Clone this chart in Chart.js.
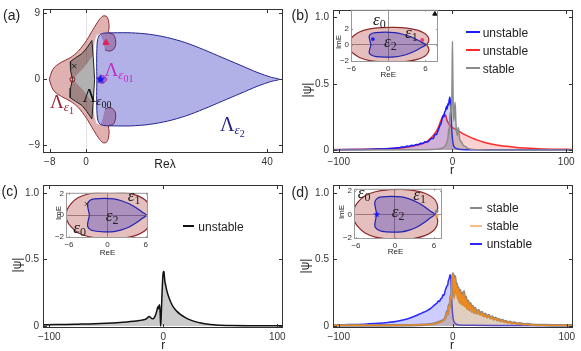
<!DOCTYPE html>
<html>
<head>
<meta charset="utf-8">
<script src="https://cdn.jsdelivr.net/npm/chart.js@4.4.1/dist/chart.umd.min.js"></script>
<style>
body{margin:0;background:#fff}
#fig{position:relative;width:581px;height:351px;overflow:hidden;background:#fff;font-family:"Liberation Sans",Arial,sans-serif;color:#222}
#fig canvas{position:absolute}
.t{position:absolute;white-space:nowrap;line-height:1}
.srf{font-family:"Liberation Serif","Times New Roman",serif}
.sub1{font-style:italic;font-size:13px;position:relative;top:3px}
.sub2{font-size:10px;position:relative;top:6px}
.eps{font-family:"Liberation Serif",serif;font-size:17px}
.eps span{font-size:12px;position:relative;top:3px}
.lg{position:absolute;height:2px}
</style>
</head>
<body>
<div id="fig">
  <canvas id="pa"></canvas>
  <canvas id="pb"></canvas>
  <canvas id="pc"></canvas>
  <canvas id="pd"></canvas>
  <canvas id="ib"></canvas>
  <canvas id="ic"></canvas>
  <canvas id="id"></canvas>
</div>
<script>
// ---- panel (a): regions in the complex lambda plane, outlines ----
const aTicksX = [-8, 0, 40];
const aTicksY = [-9, 0, 9];
const lamEps1 = [[-8.1,0],[-7.6,1.0],[-6.9,1.7],[-5.4,2.35],[-3.5,2.95],[-1.7,3.85],[0.1,5.3],[1.6,6.85],[3.0,8.2],[3.8,8.65],[4.5,8.6],[4.95,8.05],[5.1,7.1],[5.0,6.35],[6.0,6.15],[6.5,5.45],[6.5,4.6],[5.9,4.0],[5.0,3.85],[4.2,4.0],[3.6,3.0],[3.6,-3.0],[4.2,-4.0],[5.0,-3.85],[5.9,-4.0],[6.5,-4.6],[6.5,-5.45],[6.0,-6.15],[5.0,-6.35],[5.1,-7.1],[4.95,-8.05],[4.5,-8.6],[3.8,-8.65],[3.0,-8.2],[1.6,-6.85],[0.1,-5.3],[-1.7,-3.85],[-3.5,-2.95],[-5.4,-2.35],[-6.9,-1.7],[-7.6,-1.0],[-8.1,0]];
const lamEps1Gap = [[-3.0,0],[-0.6,1.5],[1.6,3.3],[1.9,5.2],[2.4,6.1],[3.2,6.15],[3.7,5.4],[4.2,4.0],[4.0,3.0],[4.0,-3.0],[4.2,-4.0],[3.7,-5.4],[3.2,-6.15],[2.4,-6.1],[1.9,-5.2],[1.6,-3.3],[-0.6,-1.5],[-3.0,0]];
const lamEps00 = [[1.3,5.3],[0.2,4.3],[-0.9,3.5],[-2.3,2.95],[-3.5,2.4],[-3.4,1.2],[-3.0,0],[-3.4,-1.2],[-3.5,-2.5],[-2.3,-3.0],[-0.9,-3.55],[0.2,-4.4],[1.3,-5.4],[1.6,-3.0],[1.9,0],[1.6,3.0],[1.3,5.3]];
const lamEps2 = [[2.4,0],[2.35,2.2],[2.4,4.2],[2.55,5.4],[3.0,6.05],[3.9,6.3],[6,6.35],[10,6.35],[14,6.15],[18,5.7],[22,5.0],[26,4.05],[30,3.0],[34,1.95],[38,0.9],[40.8,0.3],[42.7,0],[40.8,-0.3],[38,-0.9],[34,-1.95],[30,-3.0],[26,-4.05],[22,-5.0],[18,-5.7],[14,-6.15],[10,-6.35],[6,-6.35],[3.9,-6.3],[3.0,-6.05],[2.55,-5.4],[2.4,-4.2],[2.35,-2.2],[2.4,0]];
const lamEps01 = [[2.6,0],[3.0,0.45],[3.8,0.5],[4.4,0.2],[4.6,0],[4.4,-0.2],[3.8,-0.5],[3.0,-0.45],[2.6,0]];
const aCross = [-2.6, 1.8], aCircle = [-3.0, 0], aStar = [3.2, 0], aTriangle = [4.4, 5.0];

// ---- insets: spectra in the complex E plane ----
const insetTicksX = [-6, 0, 6];
const insetTicksY = [-2, 0, 2];
const eps1Loop = [[6.2,0],[6.55,0.45],[6.45,0.95],[5.9,1.4],[4.7,1.8],[3.0,2.05],[1.0,2.15],[-1.0,2.12],[-3.0,1.95],[-4.6,1.6],[-5.7,1.05],[-6.3,0.5],[-6.45,0],[-6.3,-0.5],[-5.7,-1.05],[-4.6,-1.6],[-3.0,-1.95],[-1.0,-2.12],[1.0,-2.15],[3.0,-2.05],[4.7,-1.8],[5.9,-1.4],[6.45,-0.95],[6.55,-0.45],[6.2,0]];
const eps2Loop = [[-2.8,0],[-3.0,0.55],[-3.1,1.05],[-2.7,1.38],[-2.0,1.5],[-0.5,1.55],[1.0,1.5],[2.2,1.33],[3.4,1.05],[4.5,0.68],[5.4,0.3],[6.1,0],[5.4,-0.3],[4.5,-0.7],[3.4,-1.08],[2.2,-1.35],[1.0,-1.5],[-0.5,-1.52],[-2.0,-1.45],[-2.7,-1.3],[-3.1,-1.0],[-3.0,-0.5],[-2.8,0]];

// ---- profiles |psi|(r) ----
const rTicks = [-100, 0, 100];
const psiTicks = [0, 0.5, 1];
const bUnstableBlue = [[-105,0.003],[-90,0.004],[-80,0.005],[-70,0.007],[-62,0.009],[-56,0.012],[-52,0.014],[-49,0.017],[-46,0.02],[-44,0.025],[-42,0.023],[-40,0.03],[-38,0.028],[-36,0.036],[-34,0.034],[-32,0.043],[-30,0.041],[-28,0.052],[-26,0.05],[-24,0.063],[-22,0.06],[-20,0.076],[-18,0.09],[-17,0.086],[-16,0.105],[-15,0.12],[-14,0.118],[-13,0.14],[-12,0.16],[-11,0.185],[-10,0.2],[-9,0.24],[-8.2,0.26],[-7.5,0.25],[-7,0.28],[-6,0.3],[-5.2,0.33],[-4.6,0.31],[-4,0.35],[-3.4,0.34],[-2.8,0.38],[-2.2,0.4],[-1.6,0.33],[-1.0,0.24],[-0.4,0.13],[0.2,0.07],[1,0.035],[2,0.02],[4,0.01],[8,0.005],[20,0.003],[106,0.002]];
const bUnstableRed = [[-105,0.004],[-90,0.005],[-75,0.007],[-60,0.01],[-50,0.013],[-45,0.016],[-40,0.022],[-35,0.029],[-30,0.04],[-26,0.05],[-22,0.068],[-19,0.09],[-16,0.12],[-14,0.145],[-12,0.18],[-10.5,0.215],[-9,0.245],[-8,0.26],[-7.2,0.27],[-6.6,0.255],[-6,0.265],[-5,0.23],[-4,0.21],[-3,0.195],[-2,0.185],[-1,0.175],[0,0.17],[2,0.16],[4.5,0.148],[7,0.135],[10,0.12],[14,0.103],[18,0.088],[22,0.075],[27,0.061],[33,0.048],[40,0.037],[48,0.028],[56,0.02],[65,0.015],[75,0.01],[88,0.007],[106,0.005]];
const bStableGray = [[-105,0.001],[-30,0.002],[-15,0.006],[-10,0.012],[-7,0.025],[-5.5,0.045],[-4.5,0.07],[-3.8,0.1],[-3.2,0.16],[-2.8,0.13],[-2.3,0.28],[-1.8,0.24],[-1.2,0.35],[-0.7,0.3],[-0.3,0.55],[0,0.82],[0.3,0.6],[0.7,0.32],[1.2,0.22],[1.8,0.3],[2.4,0.36],[3,0.22],[3.6,0.14],[4.2,0.11],[5,0.17],[5.6,0.15],[6.2,0.09],[7,0.07],[8,0.06],[9.5,0.035],[11,0.03],[13,0.015],[16,0.007],[22,0.003],[40,0.001],[106,0.001]];
const cUnstable = [[-106,0.01],[-95,0.011],[-85,0.012],[-75,0.014],[-65,0.016],[-55,0.019],[-45,0.023],[-38,0.027],[-32,0.03],[-26,0.035],[-21,0.041],[-17,0.047],[-15,0.053],[-13.5,0.065],[-12.5,0.072],[-11.5,0.068],[-10.5,0.058],[-9.5,0.054],[-8.5,0.057],[-7.5,0.068],[-6.5,0.09],[-5.5,0.12],[-4.8,0.145],[-4.3,0.13],[-3.8,0.15],[-3.2,0.16],[-2.7,0.09],[-2.3,0.0],[-1.8,0.08],[-1.2,0.22],[-0.6,0.34],[0,0.405],[0.6,0.41],[1,0.37],[1.5,0.33],[2,0.31],[3,0.27],[4.5,0.225],[6.5,0.18],[9,0.14],[12,0.11],[15,0.087],[19,0.065],[23,0.048],[28,0.033],[33,0.022],[38,0.015],[44,0.009],[50,0.006],[60,0.003],[75,0.002],[105,0.002]];
const dUnstableBlue = [[-105,0.008],[-95,0.01],[-85,0.012],[-75,0.016],[-65,0.021],[-57,0.027],[-50,0.034],[-44,0.045],[-38,0.058],[-33,0.075],[-29,0.09],[-25,0.105],[-22,0.118],[-19,0.135],[-17,0.15],[-15,0.165],[-13.5,0.175],[-12.5,0.19],[-11.5,0.185],[-10.5,0.205],[-9.5,0.21],[-8.5,0.235],[-7.6,0.23],[-6.8,0.26],[-6,0.28],[-5.2,0.3],[-4.5,0.305],[-3.8,0.34],[-3,0.36],[-2.3,0.385],[-1.7,0.37],[-1.2,0.28],[-0.7,0.17],[-0.2,0.1],[0.5,0.05],[1.5,0.028],[3,0.015],[6,0.008],[15,0.005],[40,0.004],[106,0.004]];
const dStableGray = [[-105,0.005],[-60,0.005],[-30,0.008],[-18,0.015],[-12,0.03],[-9,0.04],[-7,0.055],[-5.8,0.08],[-5,0.11],[-4.2,0.09],[-3.4,0.16],[-2.6,0.14],[-1.8,0.23],[-1.1,0.21],[-0.5,0.34],[0.1,0.395],[0.7,0.36],[1.3,0.22],[1.9,0.375],[2.5,0.33],[3.1,0.25],[3.7,0.32],[4.4,0.21],[5.1,0.29],[5.9,0.18],[6.7,0.27],[7.5,0.17],[8.3,0.25],[9.1,0.16],[9.9,0.26],[10.8,0.15],[11.7,0.22],[12.6,0.13],[13.6,0.19],[14.6,0.12],[15.6,0.17],[16.6,0.11],[17.6,0.15],[18.6,0.1],[19.6,0.135],[21.1,0.095],[22.6,0.12],[24.1,0.085],[25.6,0.105],[27.1,0.075],[28.6,0.092],[30.1,0.066],[31.6,0.082],[33.1,0.058],[34.6,0.072],[36.1,0.05],[37.6,0.062],[39.1,0.044],[40.6,0.053],[42.1,0.037],[43.6,0.045],[45.1,0.032],[46.6,0.038],[48.1,0.027],[50.1,0.032],[52.1,0.022],[54.1,0.026],[56.1,0.018],[59,0.02],[62,0.013],[66,0.014],[70,0.01],[80,0.007],[92,0.005],[106,0.005]];
const dStableOrange = [[-105,0.004],[-70,0.004],[-40,0.006],[-25,0.01],[-18,0.014],[-14,0.02],[-11,0.03],[-9,0.035],[-7.5,0.05],[-6.2,0.07],[-5.2,0.1],[-4.4,0.085],[-3.6,0.15],[-2.8,0.13],[-2,0.22],[-1.3,0.2],[-0.6,0.33],[0,0.39],[0.6,0.36],[1.2,0.2],[1.8,0.37],[2.4,0.32],[3,0.24],[3.6,0.31],[4.3,0.2],[5,0.28],[5.8,0.17],[6.6,0.26],[7.4,0.16],[8.2,0.24],[9,0.15],[9.8,0.25],[10.7,0.14],[11.6,0.21],[12.5,0.125],[13.5,0.18],[14.5,0.115],[15.5,0.165],[16.5,0.105],[17.5,0.145],[18.5,0.095],[19.5,0.13],[21,0.09],[22.5,0.115],[24,0.08],[25.5,0.1],[27,0.07],[28.5,0.088],[30,0.062],[31.5,0.078],[33,0.055],[34.5,0.068],[36,0.048],[37.5,0.058],[39,0.042],[40.5,0.05],[42,0.035],[43.5,0.042],[45,0.03],[46.5,0.036],[48,0.025],[50,0.03],[52,0.02],[54,0.024],[56,0.016],[59,0.018],[62,0.012],[66,0.013],[70,0.009],[78,0.007],[90,0.005],[106,0.004]];

const SANS = '"Liberation Sans", Arial, sans-serif';
const pts = a => a.map(([x, y]) => ({x, y}));
const minus = v => (v < 0 ? '\u2212' + Math.abs(v) : String(v));
const psiFmt = v => (v === 0 ? '0' : v.toFixed(1));

// frame with inward ticks on all four sides, like the original
const framePlugin = {
  id: 'frame',
  afterDatasetsDraw(chart, args, o) {
    const {ctx, chartArea: a, scales: {x, y}} = chart;
    const L = o.len;
    ctx.save();
    ctx.strokeStyle = o.color;
    ctx.lineWidth = 1;
    ctx.beginPath();
    for (const t of x.ticks) {
      const p = Math.round(x.getPixelForValue(t.value)) + 0.5;
      ctx.moveTo(p, a.bottom); ctx.lineTo(p, a.bottom - L);
      ctx.moveTo(p, a.top); ctx.lineTo(p, a.top + L);
    }
    for (const t of y.ticks) {
      const p = Math.round(y.getPixelForValue(t.value)) + 0.5;
      ctx.moveTo(a.left, p); ctx.lineTo(a.left + L, p);
      ctx.moveTo(a.right, p); ctx.lineTo(a.right - L, p);
    }
    ctx.stroke();
    ctx.strokeRect(a.left + 0.5, a.top + 0.5, a.right - a.left - 1, a.bottom - a.top - 1);
    ctx.restore();
  }
};

// box = canvas [left, top, w, h] on the page, area = plot frame [l, t, r, b] on the page
function makeChart(id, box, area, xr, yr, xTicks, yTicks, layers, o) {
  const cv = document.getElementById(id);
  cv.width = box[2]; cv.height = box[3];
  cv.style.left = box[0] + 'px'; cv.style.top = box[1] + 'px';
  cv.style.width = box[2] + 'px'; cv.style.height = box[3] + 'px';
  const yW = area[0] - box[0];
  const xH = box[1] + box[3] - area[3];
  const font = {family: SANS, size: o.fs};
  const gridCol = z => c => (z && c.tick && c.tick.value === 0 ? z : 'rgba(0,0,0,0)');
  // first layer is the bottom one
  const datasets = layers.map((d, i) => Object.assign({order: layers.length - i}, d));
  return new Chart(cv, {
    type: 'line',
    data: {datasets},
    options: {
      responsive: false,
      animation: false,
      devicePixelRatio: 1,
      layout: {autoPadding: false, padding: {top: area[1] - box[1], right: box[0] + box[2] - area[2], left: 0, bottom: 0}},
      elements: {point: {radius: 0}, line: {capBezierPoints: false}},
      plugins: {legend: {display: false}, tooltip: {enabled: false}, frame: {color: o.frame, len: o.len}},
      scales: {
        x: {
          type: 'linear', min: xr[0], max: xr[1],
          afterBuildTicks: s => { s.ticks = xTicks.map(v => ({value: v})); },
          afterFit: s => { s.height = xH; },
          grid: {drawTicks: false, color: gridCol(o.zeroX), lineWidth: 1},
          border: {display: false},
          ticks: {font, color: '#333', padding: o.padX, maxRotation: 0, autoSkip: false, callback: minus}
        },
        y: {
          type: 'linear', min: yr[0], max: yr[1],
          afterBuildTicks: s => { s.ticks = yTicks.map(v => ({value: v})); },
          afterFit: s => { s.width = yW; },
          grid: {drawTicks: false, color: gridCol(o.zeroY), lineWidth: 1},
          border: {display: false},
          ticks: {font, color: '#333', padding: o.padY, autoSkip: false, callback: o.fmtY || minus}
        }
      }
    },
    plugins: [framePlugin]
  });
}

const shape = (data, fillC, lineC, tension, bw) => ({
  data: pts(data), fill: 'shape', backgroundColor: fillC, borderColor: lineC,
  borderWidth: bw === undefined ? 1 : bw, pointRadius: 0, tension
});
const curve = (data, lineC, fillC, bw) => ({
  data: pts(data), fill: fillC ? 'origin' : false, backgroundColor: fillC || 'rgba(0,0,0,0)',
  borderColor: lineC, borderWidth: bw || 1.5, pointRadius: 0, cubicInterpolationMode: 'monotone'
});
const mark = (xy, style, r, fillC, lineC, bw) => ({
  data: pts([xy]), showLine: false, pointStyle: style, pointRadius: r,
  pointBackgroundColor: fillC, pointBorderColor: lineC, pointBorderWidth: bw || 1
});
function starShape(size, color) {
  const c = document.createElement('canvas');
  c.width = c.height = size;
  const g = c.getContext('2d');
  g.fillStyle = color;
  g.beginPath();
  for (let i = 0; i < 10; i++) {
    const rr = i % 2 ? size * 0.22 : size * 0.5;
    const ang = -Math.PI / 2 + i * Math.PI / 5;
    g.lineTo(size / 2 + rr * Math.cos(ang), size / 2 + rr * Math.sin(ang));
  }
  g.closePath();
  g.fill();
  return c;
}

const PINK = 'rgba(170,40,40,0.36)', DARKRED = '#8e2a2a';
const BLUEFILL = 'rgba(40,40,190,0.36)', NAVY = '#24248f';

// (a)
makeChart('pa', [0, 0, 290, 175], [43, 5, 283, 153], [-9.5, 43.5], [-10.05, 9.6], aTicksX, aTicksY, [
  shape(lamEps1, PINK, DARKRED, 0.3),
  shape(lamEps1Gap, '#ffffff', 'rgba(0,0,0,0)', 0, 0),
  shape(lamEps00, 'rgba(70,70,70,0.42)', '#222', 0),
  shape(lamEps2, BLUEFILL, NAVY, 0.3),
  shape(lamEps01, 'rgba(150,50,200,0.5)', '#a52aa5', 0.4),
  mark(aCross, 'crossRot', 3, '#222', '#222', 1),
  mark(aCircle, 'circle', 2.5, 'rgba(0,0,0,0)', '#8b1a1a', 1),
  mark(aStar, starShape(10, '#1515ee'), 5, '#1515ee', '#1515ee', 1),
  mark(aTriangle, 'triangle', 3.5, '#e0245a', '#e0245a', 1)
], {fs: 10, padX: 3, padY: 3, frame: '#333', len: 4, zeroX: '#e2e2e2'});

// (b)
makeChart('pb', [290, 0, 291, 175], [333, 5, 573, 153], [-105, 106], [-0.022, 1.056], rTicks, psiTicks, [
  curve(bUnstableRed, '#ff2a2a', 'rgba(235,80,80,0.26)'),
  curve(bUnstableBlue, '#1a1aff', 'rgba(60,60,230,0.22)'),
  curve(bStableGray, '#8c8c8c', 'rgba(120,120,120,0.3)')
], {fs: 10, padX: 3, padY: 4, frame: '#333', len: 4, fmtY: psiFmt});

// (c)
makeChart('pc', [0, 175, 290, 176], [43, 180, 283, 328], [-105.5, 105], [-0.015, 1.06], rTicks, psiTicks, [
  curve(cUnstable, '#111', 'rgba(140,140,140,0.45)')
], {fs: 10, padX: 3, padY: 4, frame: '#333', len: 4, fmtY: psiFmt});

// (d)
makeChart('pd', [290, 175, 291, 176], [333, 180, 573, 328], [-105, 105.5], [-0.015, 1.06], rTicks, psiTicks, [
  curve(dUnstableBlue, '#2a2aff', 'rgba(90,90,255,0.3)'),
  curve(dStableGray, '#858585', 'rgba(110,110,110,0.15)', 2.6),
  curve(dStableOrange, '#f08a1e', 'rgba(200,140,80,0.28)', 1.3)
], {fs: 10, padX: 3, padY: 4, frame: '#333', len: 4, fmtY: psiFmt});

// insets
const insetOpts = {fs: 8, padX: 2, padY: 2, frame: '#999', len: 2, zeroX: '#9a9a9a', zeroY: '#9a9a9a'};
const insetBase = () => [
  shape(eps1Loop, 'rgba(170,40,40,0.3)', DARKRED, 0.4, 1.2),
  shape(eps2Loop, 'rgba(40,40,190,0.3)', '#2323b0', 0.35, 1.2)
];
makeChart('ib', [330, 3, 112, 75], [351, 8, 438, 62], [-6.05, 8.05], [-2.12, 4.31], insetTicksX, insetTicksY,
  insetBase().concat([
    mark([-2.5, 0.7], 'rect', 1.6, '#1a1aff', '#1a1aff', 1),
    mark([5.5, 0.6], 'circle', 1.5, '#e0406a', '#e0406a', 1),
    mark([7.55, 3.8], 'triangle', 2.5, '#111', '#111', 1)
  ]), insetOpts);
makeChart('ic', [46, 186, 106, 72], [66, 189, 148, 238], [-6.47, 6.34], [-2.09, 2.06], insetTicksX, insetTicksY,
  insetBase().concat([
    mark([-3.23, 1.04], 'crossRot', 2.5, '#333', '#333', 1)
  ]), insetOpts);
makeChart('id', [334, 182, 112, 74], [354, 185, 442, 239], [-6.3, 7.23], [-2.11, 2.2], insetTicksX, insetTicksY,
  insetBase().concat([
    mark([-2.8, 0], starShape(7, '#1a1aff'), 3.5, '#1a1aff', '#1a1aff', 1),
    mark([6.4, 0.26], 'circle', 1.5, '#888', '#888', 1),
    mark([6.4, -0.14], 'circle', 1.5, '#f5a050', '#f5a050', 1)
  ]), insetOpts);

// ---- text ----
const fig = document.getElementById('fig');
function txt(html, x, y, css) {
  const d = document.createElement('div');
  d.className = 't';
  d.innerHTML = html;
  d.style.cssText += 'left:' + x + 'px;top:' + y + 'px;' + (css || '');
  fig.appendChild(d);
  return d;
}
function legendLine(x, y, w, color) {
  const d = document.createElement('div');
  d.className = 'lg';
  d.style.cssText += 'left:' + x + 'px;top:' + y + 'px;width:' + w + 'px;background:' + color;
  fig.appendChild(d);
}
const vlabel = (s, cx, cy, fs) => txt(s, cx, cy, 'font-size:' + fs + 'px;transform:translate(-50%,-50%) rotate(-90deg);');
const clabel = (s, cx, top, fs) => txt(s, cx - 30, top, 'width:60px;text-align:center;font-size:' + fs + 'px;');

txt('(a)', 3, 8, 'font-size:14px;');
txt('(b)', 291.5, 8, 'font-size:14px;');
txt('(c)', 1.5, 183.5, 'font-size:14px;');
txt('(d)', 291.5, 185, 'font-size:14px;');

// region labels of (a)
const lam = (sub, digits) => '\u039b<span class="sub1">' + sub + '</span><span class="sub2">' + digits + '</span>';
txt(lam('\u03b5', '1'), 50, 91.5, 'font-family:"Liberation Serif",serif;font-size:19px;color:#9b2335;');
txt(lam('\u03b5', '00'), 82.5, 85.5, 'font-family:"Liberation Serif",serif;font-size:19px;color:#111;');
txt(lam('\u03b5', '01'), 104.5, 60, 'font-family:"Liberation Serif",serif;font-size:19px;color:#c42ac4;');
txt(lam('\u03b5', '2'), 220, 113.5, 'font-family:"Liberation Serif",serif;font-size:20px;color:#22228c;');
clabel('Re\u03bb', 165, 158, 12);

// axis labels of the profiles
vlabel('|\u03c8|', 306.7, 90, 12);
vlabel('|\u03c8|', 16.7, 265.3, 12);
vlabel('|\u03c8|', 305, 265.5, 12);
clabel('r', 452, 164.3, 12);
clabel('r', 163.3, 339.3, 12);
clabel('r', 452, 339.3, 12);

// inset labels
const eps = d => '<i>\u03b5</i><span>' + d + '</span>';
txt(eps('0'), 373, 11.3, '', ).className += ' eps';
txt(eps('1'), 405, 24.1).className += ' eps';
txt(eps('2'), 384, 33.3).className += ' eps';
txt(eps('1'), 127.7, 187.3).className += ' eps';
txt(eps('2'), 105.7, 206.8).className += ' eps';
txt(eps('0'), 73.3, 218.8).className += ' eps';
txt(eps('0'), 357.7, 183.8).className += ' eps';
txt(eps('1'), 413.3, 185.8).className += ' eps';
txt(eps('2'), 391.7, 202.8).className += ' eps';
vlabel('ImE', 338.5, 41.7, 8);
vlabel('ImE', 59, 212.5, 8);
vlabel('ImE', 341.7, 211.7, 8);
clabel('ReE', 388.3, 70.5, 8);
clabel('ReE', 107.5, 248.5, 8);
clabel('ReE', 395.5, 248, 8);

// legends
legendLine(466, 31.3, 14, '#1a1aff'); txt('unstable', 482.7, 27.1, 'font-size:12px;');
legendLine(466, 49, 14, '#ff2a2a'); txt('unstable', 482.7, 44.8, 'font-size:12px;');
legendLine(466, 67.3, 14, '#8c8c8c'); txt('stable', 482.7, 62.5, 'font-size:12px;');
legendLine(183, 225, 11, '#111'); txt('unstable', 198.3, 220.8, 'font-size:12px;');
legendLine(470, 206.7, 12, '#8a8a8a'); txt('stable', 486.7, 202.1, 'font-size:12px;');
legendLine(470, 224.7, 12, '#f8bd85'); txt('stable', 486.7, 219.8, 'font-size:12px;');
legendLine(470, 243, 12, '#2a2aff'); txt('unstable', 486.7, 238.1, 'font-size:12px;');
</script>
</body>
</html>
